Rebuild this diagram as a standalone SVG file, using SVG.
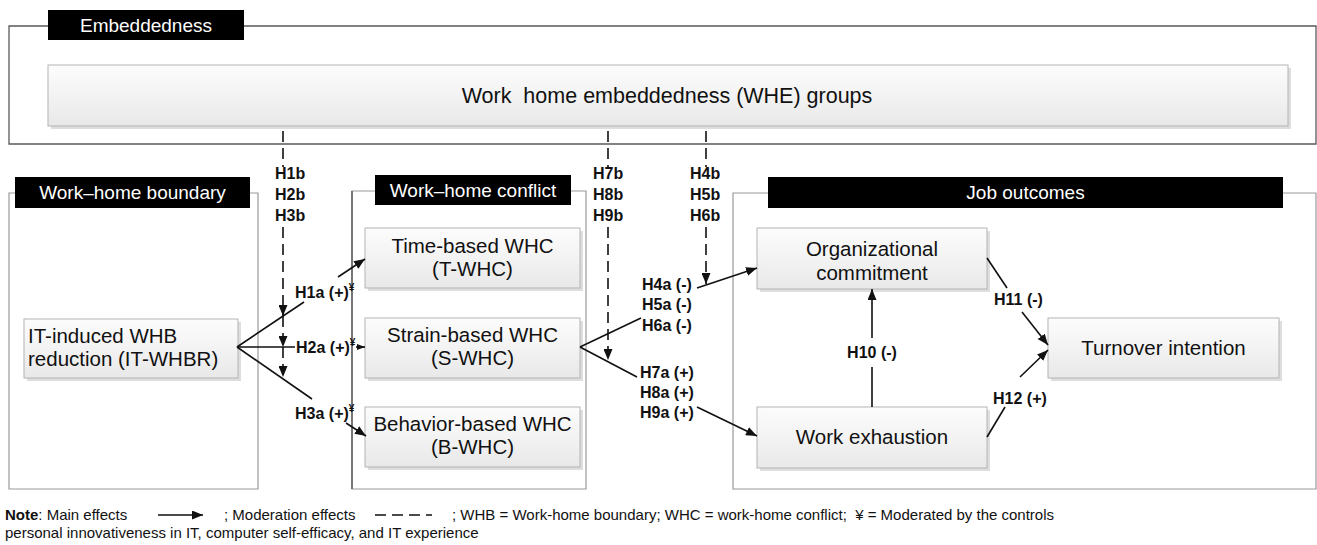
<svg xmlns="http://www.w3.org/2000/svg" width="1317" height="545" viewBox="0 0 1317 545">
  <defs>
    <linearGradient id="boxFill" x1="0" y1="0" x2="0" y2="1">
      <stop offset="0" stop-color="#fcfcfc"/>
      <stop offset="0.45" stop-color="#f4f4f4"/>
      <stop offset="1" stop-color="#e8e8e8"/>
    </linearGradient>
    <marker id="arrow" viewBox="0 0 11 9" refX="11" refY="4.5" markerWidth="11" markerHeight="9" markerUnits="userSpaceOnUse" orient="auto">
      <path d="M0,0 L11,4.5 L0,9 Z" fill="#111"/>
    </marker>
    <marker id="arrowSmall" viewBox="0 0 8 6" refX="8" refY="3" markerWidth="8" markerHeight="6" markerUnits="userSpaceOnUse" orient="auto">
      <path d="M0,0 L8,3 L0,6 Z" fill="#111"/>
    </marker>
  </defs>
  <style>
    .frame { fill: none; stroke: #9a9a9a; stroke-width: 1.2; }
    .frameDark { fill: none; stroke: #5a5a5a; stroke-width: 1.3; }
    .hdr { fill: #000; }
    .hdrText { fill: #fff; font-family: "Liberation Sans", Arial, sans-serif; font-size: 19px; text-anchor: middle; }
    .shadow { fill: #dedede; }
    .box { fill: url(#boxFill); stroke: #b4b4b4; stroke-width: 1; }
    .nodeText { fill: #111; font-family: "Liberation Sans", Arial, sans-serif; font-size: 20.5px; text-anchor: middle; }
    .lbl { fill: #111; font-family: "Liberation Sans", Arial, sans-serif; font-size: 16px; font-weight: bold; }
    .yen { font-size: 10px; font-weight: bold; }
    .main { fill: none; stroke: #111; stroke-width: 1.6; }
    .mod { fill: none; stroke: #111; stroke-width: 1.6; stroke-dasharray: 11 6; }
    .note { fill: #111; font-family: "Liberation Sans", Arial, sans-serif; font-size: 15px; }
  </style>
  <rect width="1317" height="545" fill="#fff"/>

  <!-- Embeddedness container -->
  <g id="embeddedness">
    <path class="frameDark" d="M48,26 H9 V144 H1316 V26 H244"/>
    <rect class="hdr" x="48" y="10" width="196" height="30"/>
    <text class="hdrText" x="146" y="32">Embeddedness</text>
  </g>
  <g id="whe-groups">
    <rect class="shadow" x="51" y="68" width="1240" height="61"/>
    <rect class="box" x="48" y="65" width="1240" height="61"/>
    <text class="nodeText" x="667" y="103" style="font-size:21.5px" xml:space="preserve">Work  home embeddedness (WHE) groups</text>
  </g>

  <!-- Work–home boundary container -->
  <g id="boundary">
    <path class="frame" d="M15,193 H9 V489 H258 V193 H250"/>
    <rect class="hdr" x="15" y="177" width="235" height="31"/>
    <text class="hdrText" x="132.5" y="199">Work–home boundary</text>
  </g>
  <g id="it-whbr">
    <rect class="shadow" x="27" y="322" width="214" height="59"/>
    <rect class="box" x="24" y="319" width="214" height="59"/>
    <text class="nodeText" x="28" y="343" style="text-anchor:start">IT-induced WHB</text>
    <text class="nodeText" x="28" y="366" style="text-anchor:start">reduction (IT-WHBR)</text>
  </g>

  <!-- Work–home conflict container -->
  <g id="conflict">
    <path class="frame" d="M375,191 H352 V489 H586 V191 H571"/>
    <line x1="352" y1="191" x2="352" y2="489" stroke="#555" stroke-width="1.4"/>
    <rect class="hdr" x="375" y="175" width="196" height="30"/>
    <text class="hdrText" x="473" y="197">Work–home conflict</text>
  </g>
  <g id="t-whc">
    <rect class="shadow" x="368" y="231" width="215" height="60"/>
    <rect class="box" x="365" y="228" width="215" height="60"/>
    <text class="nodeText" x="472.5" y="253">Time-based WHC</text>
    <text class="nodeText" x="472.5" y="276">(T-WHC)</text>
  </g>
  <g id="s-whc">
    <rect class="shadow" x="368" y="321" width="215" height="60"/>
    <rect class="box" x="365" y="318" width="215" height="60"/>
    <text class="nodeText" x="472.5" y="342">Strain-based WHC</text>
    <text class="nodeText" x="472.5" y="365">(S-WHC)</text>
  </g>
  <g id="b-whc">
    <rect class="shadow" x="368" y="410" width="215" height="60"/>
    <rect class="box" x="365" y="407" width="215" height="60"/>
    <text class="nodeText" x="472.5" y="431">Behavior-based WHC</text>
    <text class="nodeText" x="472.5" y="454">(B-WHC)</text>
  </g>

  <!-- Job outcomes container -->
  <g id="outcomes">
    <path class="frame" d="M768,193 H733 V489 H1316 V193 H1283"/>
    <rect class="hdr" x="768" y="177" width="515" height="31"/>
    <text class="hdrText" x="1025.5" y="199">Job outcomes</text>
  </g>
  <g id="org-commitment">
    <rect class="shadow" x="760" y="231" width="230" height="61"/>
    <rect class="box" x="757" y="228" width="230" height="61"/>
    <text class="nodeText" x="872" y="256">Organizational</text>
    <text class="nodeText" x="872" y="280">commitment</text>
  </g>
  <g id="work-exhaustion">
    <rect class="shadow" x="760" y="410" width="230" height="61"/>
    <rect class="box" x="757" y="407" width="230" height="61"/>
    <text class="nodeText" x="872" y="444">Work exhaustion</text>
  </g>
  <g id="turnover">
    <rect class="shadow" x="1051" y="321" width="231" height="60"/>
    <rect class="box" x="1048" y="318" width="231" height="60"/>
    <text class="nodeText" x="1163.5" y="355">Turnover intention</text>
  </g>

  <!-- Connectors -->
  <g id="connectors">
    <!-- IT-WHBR fan to the three conflict types -->
    <line class="main" x1="237" y1="347" x2="304" y2="302"/>
    <line class="main" x1="338" y1="277" x2="365" y2="259" marker-end="url(#arrow)"/>
    <line class="main" x1="237" y1="347" x2="295" y2="347"/>
    <line class="main" x1="356" y1="347" x2="365" y2="347" marker-end="url(#arrowSmall)"/>
    <line class="main" x1="237" y1="347" x2="312" y2="399"/>
    <line class="main" x1="346" y1="423" x2="366" y2="436" marker-end="url(#arrow)"/>

    <!-- moderation of H1a-H3a -->
    <line class="mod" x1="283" y1="131" x2="283" y2="167"/>
    <line class="mod" x1="283" y1="227" x2="283" y2="316" marker-end="url(#arrow)"/>
    <line class="mod" x1="283" y1="316" x2="283" y2="347" marker-end="url(#arrow)" stroke-dasharray="9 6"/>
    <line class="mod" x1="283" y1="347" x2="283" y2="377" marker-end="url(#arrow)" stroke-dasharray="9 6"/>

    <!-- S-WHC fan to outcomes -->
    <line class="main" x1="580" y1="347" x2="641" y2="318"/>
    <line class="main" x1="697" y1="288" x2="757" y2="268" marker-end="url(#arrow)"/>
    <line class="main" x1="580" y1="347" x2="637" y2="377"/>
    <line class="main" x1="697" y1="407" x2="757" y2="436" marker-end="url(#arrow)"/>

    <!-- moderation of H7a-H9a and H4a-H6a -->
    <line class="mod" x1="608" y1="131" x2="608" y2="167"/>
    <line class="mod" x1="608" y1="227" x2="608" y2="360" marker-end="url(#arrow)"/>
    <line class="mod" x1="706" y1="131" x2="706" y2="167"/>
    <line class="mod" x1="706" y1="227" x2="706" y2="284" marker-end="url(#arrow)"/>

    <!-- within job outcomes -->
    <line class="main" x1="872" y1="407" x2="872" y2="367"/>
    <line class="main" x1="872" y1="338" x2="872" y2="289" marker-end="url(#arrow)"/>
    <line class="main" x1="987" y1="258" x2="1007" y2="288"/>
    <line class="main" x1="1022" y1="312" x2="1048" y2="345" marker-end="url(#arrow)"/>
    <line class="main" x1="987" y1="437" x2="1005" y2="407"/>
    <line class="main" x1="1020" y1="377" x2="1048" y2="350" marker-end="url(#arrow)"/>

    <!-- hypothesis labels -->
    <text class="lbl" x="295" y="298">H1a (+)<tspan class="yen" dy="-7">¥</tspan></text>
    <text class="lbl" x="296" y="353">H2a (+)<tspan class="yen" dy="-7">¥</tspan></text>
    <text class="lbl" x="295" y="419">H3a (+)<tspan class="yen" dy="-7">¥</tspan></text>
    <text class="lbl" x="275" y="179">H1b</text>
    <text class="lbl" x="275" y="200">H2b</text>
    <text class="lbl" x="275" y="221">H3b</text>
    <text class="lbl" x="593" y="179">H7b</text>
    <text class="lbl" x="593" y="200">H8b</text>
    <text class="lbl" x="593" y="221">H9b</text>
    <text class="lbl" x="690" y="179">H4b</text>
    <text class="lbl" x="690" y="200">H5b</text>
    <text class="lbl" x="690" y="221">H6b</text>
    <text class="lbl" x="642" y="290">H4a (-)</text>
    <text class="lbl" x="642" y="310">H5a (-)</text>
    <text class="lbl" x="642" y="331">H6a (-)</text>
    <text class="lbl" x="640" y="378">H7a (+)</text>
    <text class="lbl" x="640" y="398">H8a (+)</text>
    <text class="lbl" x="640" y="418">H9a (+)</text>
    <text class="lbl" x="872" y="358" text-anchor="middle">H10 (-)</text>
    <text class="lbl" x="994" y="305">H11 (-)</text>
    <text class="lbl" x="993" y="404">H12 (+)</text>
  </g>

  <!-- Legend note -->
  <g id="note">
    <text class="note" x="5" y="520"><tspan font-weight="bold">Note</tspan>: Main effects</text>
    <line class="main" x1="158" y1="515" x2="203" y2="515" marker-end="url(#arrow)"/>
    <text class="note" x="224" y="520">; Moderation effects</text>
    <line class="mod" x1="375" y1="515" x2="432" y2="515" stroke-dasharray="12 6"/>
    <text class="note" x="452" y="520" xml:space="preserve">; WHB = Work-home boundary; WHC = work-home conflict;  ¥ = Moderated by the controls</text>
    <text class="note" x="5" y="538">personal innovativeness in IT, computer self-efficacy, and IT experience</text>
  </g>
</svg>
